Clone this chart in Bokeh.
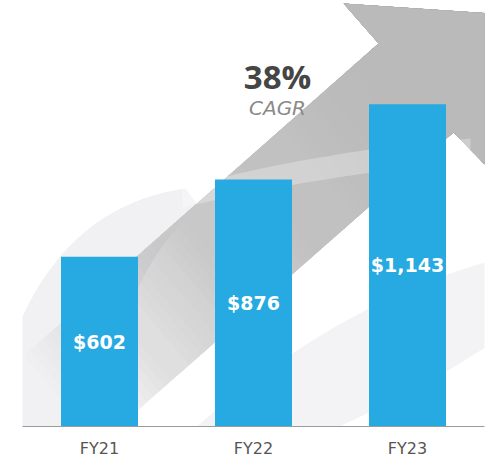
import numpy as np
from bokeh.plotting import figure
from bokeh.models import Range1d, ColumnDataSource, FixedTicker
from bokeh.core.properties import value
from bokeh.embed import file_html
from bokeh.resources import INLINE

# ---- data ----
categories = ["FY21", "FY22", "FY23"]
revenue = [602, 876, 1143]
cagr_text = "38%"
cagr_label = "CAGR"

bar_color = "#27AAE1"
xpos = [i + 0.5 for i in range(len(categories))]

p = figure(x_range=Range1d(0, len(categories)), y_range=Range1d(0, 1511),
           width=490, height=460, output_backend="svg", toolbar_location=None,
           y_axis_location=None, min_border_left=22, min_border_right=6,
           min_border_top=0, min_border_bottom=34)
p.outline_line_color = None
p.grid.visible = False
p.background_fill_color = "white"

# pixel-like ranges for the decorative background
p.extra_x_ranges = {"px": Range1d(22, 484)}
p.extra_y_ranges = {"px": Range1d(426, 0)}


def bez(p0, p1, p2, n=40):
    t = np.linspace(0, 1, n)[:, None]
    pts = (1 - t) ** 2 * np.array(p0) + 2 * (1 - t) * t * np.array(p1) + t ** 2 * np.array(p2)
    return pts


def band(top, bottom):
    pts = np.vstack([bez(*top), bez(*bottom)])
    return list(pts[:, 0]), list(pts[:, 1])


# faint swooshes
xs, ys = band(((-10, 420), (30, 210), (185, 188)), ((200, 208), (120, 260), (90, 470)))
p.patch(xs, ys, x_range_name="px", y_range_name="px", fill_color="#f1f1f4", line_color=None)
xs, ys = band(((170, 450), (330, 300), (510, 255)), ((510, 330), (380, 420), (200, 480)))
p.patch(xs, ys, x_range_name="px", y_range_name="px", fill_color="#f3f3f6", line_color=None)

# big arrow: stacked translucent shapes (head + shaft down to t_k) give a fade
U = np.array([378.0, 43.0])
L = np.array([453.0, 132.0])
d = np.array([-0.751, 0.661])
head_x = [U[0], 343, 505, 490, L[0]]
head_y = [U[1], 3, 14, 170, L[1]]
arrow_col = "#c3c3c3"
ts = np.linspace(0, 480, 61)
target = np.interp(ts[1:], [0, 200, 330, 420, 480], [1, 0.85, 0.6, 0.25, 0.0])
target[0] = 1.0
A = list(target) + [0.0]
alphas = []
for j in range(len(target)):
    Aj, An = A[j], A[j + 1]
    a = 1 - (1 - Aj) / (1 - An) if An < 1 else Aj
    alphas.append(max(0.0, min(1.0, a)))
for tk, a in zip(ts[1:], alphas):
    if a <= 0:
        continue
    u2 = U + tk * d
    l2 = L + tk * d
    p.patch([u2[0]] + head_x + [l2[0]], [u2[1]] + head_y + [l2[1]],
            x_range_name="px", y_range_name="px", fill_color=arrow_col,
            fill_alpha=a, line_color=None)

# light streak across the arrow
xs, ys = band(((182, 187), (320, 150), (470, 138)), ((470, 160), (320, 175), (182, 207)))
p.patch(xs, ys, x_range_name="px", y_range_name="px", fill_color="white",
        fill_alpha=0.28, line_color=None)

# bars
src = ColumnDataSource(dict(x=xpos, val=revenue,
                            mid=[v / 2 for v in revenue],
                            lab=[f"${v:,}" for v in revenue]))
p.vbar(x="x", top="val", width=0.5, source=src, fill_color=bar_color, line_color=None)
p.text(x="x", y="mid", text="lab", source=src, text_color="white",
       text_font=value("DejaVu Sans"), text_font_style="bold", text_font_size="19px",
       text_align="center", text_baseline="middle")

# CAGR annotation
p.text(x=[277], y=[76], text=[cagr_text], x_range_name="px", y_range_name="px",
       text_color="#454545", text_font=value("Open Sans"), text_font_style="bold",
       text_font_size="33px", text_align="center", text_baseline="middle")
p.text(x=[277], y=[107], text=[cagr_label], x_range_name="px", y_range_name="px",
       text_color="#8a8a8a", text_font=value("DejaVu Sans"), text_font_style="italic",
       text_font_size="20px", text_align="center", text_baseline="middle")

# axis
ax = p.xaxis[0]
ax.ticker = FixedTicker(ticks=xpos)
ax.major_label_overrides = {x: c for x, c in zip(xpos, categories)}
ax.axis_line_color = "#9a9a9a"
ax.axis_line_width = 1
ax.major_tick_line_color = None
ax.minor_tick_line_color = None
ax.major_tick_out = 0
ax.major_tick_in = 0
ax.major_label_standoff = 12
ax.major_label_text_font = "DejaVu Sans"
ax.major_label_text_font_size = "16px"
ax.major_label_text_color = "#555555"

open("out.html", "w").write(file_html(p, INLINE))
